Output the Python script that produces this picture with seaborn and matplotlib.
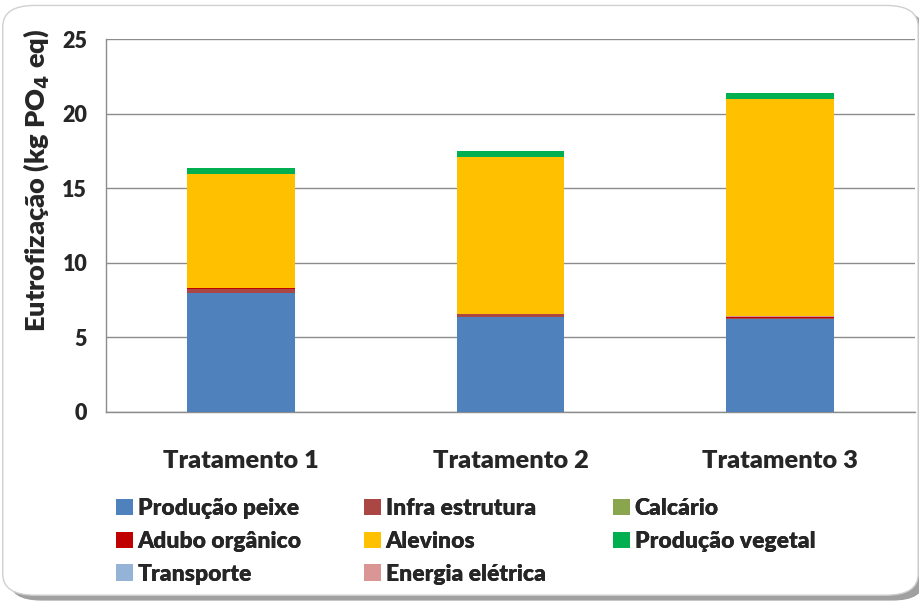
import numpy as np
import pandas as pd
import matplotlib
matplotlib.use("Agg")
import matplotlib.pyplot as plt
import seaborn as sns
from matplotlib.patches import FancyBboxPatch, Patch

categories = ["Tratamento 1", "Tratamento 2", "Tratamento 3"]
series = ["Produção peixe", "Infra estrutura", "Calcário", "Adubo orgânico",
          "Alevinos", "Produção vegetal", "Transporte", "Energia elétrica"]
producao_peixe = [8.00, 6.35, 6.20]
infra_estrutura = [0.25, 0.20, 0.12]
calcario = [0.00, 0.00, 0.00]
adubo_organico = [0.04, 0.02, 0.08]
alevinos = [7.66, 10.48, 14.58]
producao_vegetal = [0.38, 0.44, 0.38]
transporte = [0.00, 0.00, 0.00]
energia_eletrica = [0.01, 0.01, 0.01]
colors = ["#4F81BD", "#AA4643", "#89A54E", "#C00000",
          "#FFC000", "#00B050", "#95B3D7", "#D99694"]

stack_order = ["Produção peixe", "Infra estrutura", "Calcário", "Adubo orgânico",
               "Energia elétrica", "Transporte", "Alevinos", "Produção vegetal"]
values = {
    "Produção peixe": producao_peixe, "Infra estrutura": infra_estrutura,
    "Calcário": calcario, "Adubo orgânico": adubo_organico,
    "Alevinos": alevinos, "Produção vegetal": producao_vegetal,
    "Transporte": transporte, "Energia elétrica": energia_eletrica,
}
cmap = dict(zip(series, colors))

sns.set_theme(style="white")
plt.rcParams["font.family"] = ["Lato", "DejaVu Sans"]
plt.rcParams["font.weight"] = "heavy"
W = "heavy"

fig = plt.figure(figsize=(9.2, 6.03), dpi=100)
shadow = FancyBboxPatch((0.010, 0.004), 0.995, 0.978, boxstyle="round,pad=0,rounding_size=0.035",
                        transform=fig.transFigure, facecolor="#a0a0a0", edgecolor="none",
                        zorder=-3)
frame = FancyBboxPatch((0.003, 0.013), 0.995, 0.978, boxstyle="round,pad=0,rounding_size=0.035",
                       transform=fig.transFigure, facecolor="white", edgecolor="#d0d0d0",
                       linewidth=1.0, zorder=-2)
fig.patches.extend([shadow, frame])

ax = fig.add_axes([106 / 920, 1 - 412 / 603, 809 / 920, 373 / 603])
ax.set_facecolor("none")

cum = np.zeros(len(categories))
cums = []
for s in stack_order:
    cum = cum + np.array(values[s])
    cums.append((s, cum.copy()))

for s, c in reversed(cums):
    df = pd.DataFrame({"cat": categories, "val": c})
    sns.barplot(data=df, x="cat", y="val", color=cmap[s], width=0.40,
                saturation=1, ax=ax, linewidth=0, zorder=3)

ax.set_ylim(0, 25)
ax.set_xlim(-0.5, 2.5)
ax.set_yticks([0, 5, 10, 15, 20, 25])
ax.set_yticklabels(["0", "5", "10", "15", "20", "25"], fontsize=15.5, fontweight=W)
ax.yaxis.grid(True, color="#8c8c8c", linewidth=1.0, zorder=0)
ax.set_axisbelow(True)
ax.set_xticks([0, 1, 2])
ax.set_xticklabels(categories, fontsize=18.3, fontweight=W)
ax.tick_params(axis="x", length=0, pad=27)
ax.set_xticks([-0.5, 0.5, 1.5, 2.5], minor=True)
ax.tick_params(axis="x", which="minor", length=4.5, color="#8c8c8c", width=1, direction="out")
ax.tick_params(axis="y", length=4.5, color="#8c8c8c", width=1, direction="out", pad=9)
for sp in ["top", "right"]:
    ax.spines[sp].set_visible(False)
for sp in ["left", "bottom"]:
    ax.spines[sp].set_color("#8c8c8c")
    ax.spines[sp].set_linewidth(1.0)
ax.set_xlabel("")
ax.set_ylabel("Eutrofização (kg PO$_\\mathbf{4}$ eq)", fontsize=19.5, fontweight=W)
ax.yaxis.set_label_coords(-0.068, 0.622)

legend_cols = [["Produção peixe", "Adubo orgânico", "Transporte"],
               ["Infra estrutura", "Alevinos", "Energia elétrica"],
               ["Calcário", "Produção vegetal"]]
col_x = [116, 364, 613]
for names, x in zip(legend_cols, col_x):
    handles = [Patch(facecolor=cmap[n], edgecolor="none") for n in names]
    leg = fig.legend(handles, names, ncol=1, loc="upper left",
                     bbox_to_anchor=(x / 920, 1 - 498 / 603), frameon=False,
                     prop={"size": 16.5, "weight": W},
                     handlelength=0.75, handleheight=0.75, handletextpad=0.2,
                     labelspacing=0.52, borderaxespad=0, borderpad=0)
    fig.add_artist(leg)

fig.savefig("out.png", dpi=100)
